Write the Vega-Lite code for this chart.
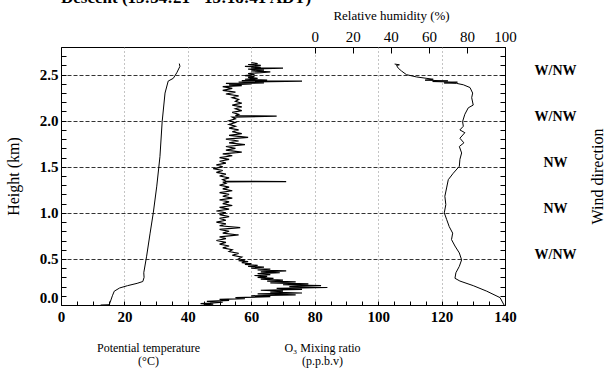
{
  "$schema": "https://vega.github.io/schema/vega-lite/v6.json",
  "width": 444,
  "height": 258,
  "autosize": {"type": "none"},
  "padding": {"left": 61, "top": 47, "right": 103, "bottom": 64},
  "background": "white",
  "config": {
    "view": {"stroke": "black", "strokeWidth": 1},
    "font": "Liberation Serif",
    "axis": {"labelFont": "Liberation Serif", "titleFont": "Liberation Serif", "titleFontWeight": "normal", "domain": false, "labelColor": "black", "titleColor": "black", "tickColor": "black"}
  },
  "title": {"text": "Descent (15:34:21 - 15:18:41 ADT)", "anchor": "start", "frame": "group", "font": "Liberation Serif", "fontSize": 17, "fontWeight": "bold", "offset": 2, "color": "black"},
  "datasets": {
    "temp": [
      {"t": 12.5, "h": 0.0}, {"t": 15.2, "h": 0.003}, {"t": 15.5, "h": 0.03}, {"t": 16.2, "h": 0.1}, {"t": 16.8, "h": 0.15},
      {"t": 18.5, "h": 0.185}, {"t": 21.0, "h": 0.21}, {"t": 24.0, "h": 0.235}, {"t": 25.8, "h": 0.255}, {"t": 26.2, "h": 0.3},
      {"t": 26.1, "h": 0.35}, {"t": 27.0, "h": 0.53}, {"t": 28.1, "h": 0.78}, {"t": 29.1, "h": 1.0}, {"t": 30.2, "h": 1.29},
      {"t": 31.2, "h": 1.61}, {"t": 31.9, "h": 1.99}, {"t": 32.8, "h": 2.3}, {"t": 33.8, "h": 2.43}, {"t": 35.4, "h": 2.46},
      {"t": 36.5, "h": 2.52}, {"t": 37.5, "h": 2.59}, {"t": 37.3, "h": 2.62}
    ],
    "o3": [
      {"o": 45, "h": 0.0}, {"o": 48, "h": 0.01}, {"o": 44, "h": 0.015}, {"o": 47, "h": 0.02}, {"o": 51, "h": 0.03}, {"o": 46, "h": 0.04},
      {"o": 53, "h": 0.05}, {"o": 50, "h": 0.06}, {"o": 58, "h": 0.07}, {"o": 55, "h": 0.08}, {"o": 66, "h": 0.09}, {"o": 60, "h": 0.1},
      {"o": 74, "h": 0.11}, {"o": 62, "h": 0.12}, {"o": 76, "h": 0.13}, {"o": 66, "h": 0.14}, {"o": 70, "h": 0.15}, {"o": 63, "h": 0.16},
      {"o": 76, "h": 0.17}, {"o": 68, "h": 0.18}, {"o": 84, "h": 0.19}, {"o": 72, "h": 0.2}, {"o": 82, "h": 0.21}, {"o": 70, "h": 0.22},
      {"o": 78, "h": 0.23}, {"o": 66, "h": 0.24}, {"o": 74, "h": 0.25}, {"o": 65, "h": 0.26}, {"o": 70, "h": 0.27}, {"o": 63, "h": 0.28},
      {"o": 67, "h": 0.29}, {"o": 62, "h": 0.3}, {"o": 65, "h": 0.31}, {"o": 61, "h": 0.32}, {"o": 66, "h": 0.33}, {"o": 62, "h": 0.34},
      {"o": 69, "h": 0.35}, {"o": 63, "h": 0.36}, {"o": 71, "h": 0.37}, {"o": 62, "h": 0.38}, {"o": 66, "h": 0.39}, {"o": 60, "h": 0.4},
      {"o": 64, "h": 0.41}, {"o": 59, "h": 0.42}, {"o": 62, "h": 0.43}, {"o": 58, "h": 0.44}, {"o": 60, "h": 0.45}, {"o": 57, "h": 0.46},
      {"o": 59, "h": 0.47}, {"o": 56, "h": 0.48}, {"o": 58, "h": 0.49}, {"o": 56, "h": 0.5}, {"o": 57, "h": 0.52}, {"o": 54, "h": 0.54},
      {"o": 56, "h": 0.56}, {"o": 53, "h": 0.58}, {"o": 54, "h": 0.6}, {"o": 51, "h": 0.62}, {"o": 53, "h": 0.64}, {"o": 50, "h": 0.66},
      {"o": 52, "h": 0.68}, {"o": 49, "h": 0.7}, {"o": 52, "h": 0.72}, {"o": 50, "h": 0.74}, {"o": 56, "h": 0.76}, {"o": 51, "h": 0.78},
      {"o": 53, "h": 0.8}, {"o": 50, "h": 0.82}, {"o": 56.5, "h": 0.84}, {"o": 50, "h": 0.86}, {"o": 52, "h": 0.88}, {"o": 49, "h": 0.9},
      {"o": 52, "h": 0.92}, {"o": 50, "h": 0.94}, {"o": 53, "h": 0.96}, {"o": 50, "h": 0.98}, {"o": 52, "h": 1.0}, {"o": 49, "h": 1.02},
      {"o": 53, "h": 1.04}, {"o": 50, "h": 1.06}, {"o": 54, "h": 1.08}, {"o": 51, "h": 1.1}, {"o": 53, "h": 1.12}, {"o": 50, "h": 1.14},
      {"o": 54, "h": 1.16}, {"o": 51, "h": 1.18}, {"o": 53, "h": 1.2}, {"o": 50, "h": 1.22}, {"o": 54, "h": 1.24}, {"o": 51, "h": 1.26},
      {"o": 53, "h": 1.28}, {"o": 50, "h": 1.3}, {"o": 52, "h": 1.32}, {"o": 51, "h": 1.335}, {"o": 71, "h": 1.34}, {"o": 52, "h": 1.345},
      {"o": 51, "h": 1.36}, {"o": 53, "h": 1.38}, {"o": 50, "h": 1.4}, {"o": 52, "h": 1.42}, {"o": 49, "h": 1.44}, {"o": 51, "h": 1.46},
      {"o": 48, "h": 1.48}, {"o": 51, "h": 1.5}, {"o": 49, "h": 1.52}, {"o": 52, "h": 1.54}, {"o": 50, "h": 1.56}, {"o": 53, "h": 1.58},
      {"o": 50, "h": 1.6}, {"o": 54, "h": 1.62}, {"o": 51, "h": 1.64}, {"o": 57, "h": 1.66}, {"o": 52, "h": 1.68}, {"o": 55, "h": 1.7},
      {"o": 52, "h": 1.72}, {"o": 58, "h": 1.74}, {"o": 53, "h": 1.76}, {"o": 56, "h": 1.78}, {"o": 52, "h": 1.8}, {"o": 59, "h": 1.82},
      {"o": 53, "h": 1.84}, {"o": 57, "h": 1.86}, {"o": 54, "h": 1.88}, {"o": 56, "h": 1.9}, {"o": 53, "h": 1.92}, {"o": 55, "h": 1.94},
      {"o": 53, "h": 1.96}, {"o": 55, "h": 1.98}, {"o": 53, "h": 2.0}, {"o": 55, "h": 2.02}, {"o": 54, "h": 2.04}, {"o": 68, "h": 2.05},
      {"o": 55, "h": 2.055}, {"o": 56, "h": 2.07}, {"o": 54, "h": 2.09}, {"o": 57, "h": 2.11}, {"o": 55, "h": 2.13}, {"o": 57, "h": 2.15},
      {"o": 54, "h": 2.17}, {"o": 57, "h": 2.19}, {"o": 55, "h": 2.21}, {"o": 56, "h": 2.23}, {"o": 54, "h": 2.25}, {"o": 56, "h": 2.27},
      {"o": 52, "h": 2.29}, {"o": 55, "h": 2.31}, {"o": 51, "h": 2.33}, {"o": 54, "h": 2.35}, {"o": 51, "h": 2.37}, {"o": 57, "h": 2.38},
      {"o": 53, "h": 2.39}, {"o": 60, "h": 2.4}, {"o": 52, "h": 2.405}, {"o": 64, "h": 2.41}, {"o": 56, "h": 2.42}, {"o": 76, "h": 2.43},
      {"o": 57, "h": 2.435}, {"o": 65, "h": 2.44}, {"o": 58, "h": 2.45}, {"o": 62, "h": 2.46}, {"o": 59, "h": 2.47}, {"o": 61, "h": 2.48},
      {"o": 58, "h": 2.49}, {"o": 61, "h": 2.5}, {"o": 59, "h": 2.51}, {"o": 62, "h": 2.52}, {"o": 66, "h": 2.53}, {"o": 60, "h": 2.54},
      {"o": 64, "h": 2.55}, {"o": 59, "h": 2.56}, {"o": 70, "h": 2.57}, {"o": 60, "h": 2.575}, {"o": 63, "h": 2.58}, {"o": 58, "h": 2.59},
      {"o": 63, "h": 2.6}, {"o": 59, "h": 2.61}, {"o": 62, "h": 2.62}, {"o": 60, "h": 2.63}
    ],
    "rh": [
      {"r": 99.5, "h": 0.0}, {"r": 97.4, "h": 0.08}, {"r": 90.4, "h": 0.15}, {"r": 83.3, "h": 0.21}, {"r": 76.3, "h": 0.26},
      {"r": 73.7, "h": 0.29}, {"r": 74.2, "h": 0.35}, {"r": 76.0, "h": 0.42}, {"r": 77.2, "h": 0.49}, {"r": 76.0, "h": 0.565},
      {"r": 73.7, "h": 0.64}, {"r": 71.9, "h": 0.71}, {"r": 72.5, "h": 0.78}, {"r": 70.7, "h": 0.85}, {"r": 69.3, "h": 0.93},
      {"r": 68.1, "h": 1.0}, {"r": 68.9, "h": 1.09}, {"r": 68.4, "h": 1.18}, {"r": 69.3, "h": 1.27}, {"r": 70.2, "h": 1.36},
      {"r": 72.8, "h": 1.43}, {"r": 76.0, "h": 1.505}, {"r": 76.3, "h": 1.58}, {"r": 77.2, "h": 1.65}, {"r": 76.0, "h": 1.72},
      {"r": 78.4, "h": 1.76}, {"r": 76.3, "h": 1.81}, {"r": 78.9, "h": 1.87}, {"r": 76.3, "h": 1.9}, {"r": 78.1, "h": 1.94},
      {"r": 77.7, "h": 1.99}, {"r": 78.9, "h": 2.07}, {"r": 80.7, "h": 2.14}, {"r": 83.3, "h": 2.17}, {"r": 82.5, "h": 2.25},
      {"r": 83.0, "h": 2.3}, {"r": 81.6, "h": 2.36}, {"r": 78.1, "h": 2.39}, {"r": 74.6, "h": 2.405}, {"r": 68.0, "h": 2.41},
      {"r": 75.0, "h": 2.418}, {"r": 62.0, "h": 2.425}, {"r": 70.0, "h": 2.432}, {"r": 58.0, "h": 2.44}, {"r": 62.3, "h": 2.45},
      {"r": 53.5, "h": 2.475}, {"r": 48.2, "h": 2.5}, {"r": 45.6, "h": 2.54}, {"r": 43.9, "h": 2.57}, {"r": 43.0, "h": 2.6},
      {"r": 44.5, "h": 2.607}, {"r": 42.0, "h": 2.615}
    ]
  },
  "layer": [
    {
      "data": {"name": "temp"},
      "mark": {"type": "line", "color": "black", "strokeWidth": 1, "clip": true},
      "encoding": {
        "x": {
          "field": "t", "type": "quantitative",
          "scale": {"domain": [0, 140], "nice": false, "zero": false},
          "axis": {
            "orient": "bottom",
            "values": [0, 5, 10, 15, 20, 25, 30, 35, 40, 45, 50, 55, 60, 65, 70, 75, 80, 85, 90, 95, 100, 105, 110, 115, 120, 125, 130, 135, 140],
            "labelExpr": "datum.value % 20 == 0 ? datum.label : ''",
            "labelFontWeight": "bold", "labelFontSize": 15, "labelPadding": 8, "labelOverlap": false, "labelFlush": false,
            "tickSize": -4,
            "grid": true, "gridColor": "#888888", "gridDash": [1, 3],
            "gridOpacity": {"condition": {"test": "datum.value % 20 == 0 && datum.value > 0 && datum.value < 140", "value": 1}, "value": 0},
            "title": ["Potential temperature", "(°C)"], "titleFontSize": 12, "titleX": 87, "titleY": 37, "titleBaseline": "top", "titleLineHeight": 13
          }
        },
        "y": {
          "field": "h", "type": "quantitative",
          "scale": {"domain": [0, 2.8], "nice": false, "zero": false},
          "axis": {
            "orient": "left",
            "values": [0, 0.1, 0.2, 0.3, 0.4, 0.5, 0.6, 0.7, 0.8, 0.9, 1.0, 1.1, 1.2, 1.3, 1.4, 1.5, 1.6, 1.7, 1.8, 1.9, 2.0, 2.1, 2.2, 2.3, 2.4, 2.5, 2.6, 2.7, 2.8],
            "labelExpr": "abs(datum.value*2 - round(datum.value*2)) < 0.001 ? format(datum.value, '.1f') : ''",
            "labelFontWeight": "bold", "labelFontSize": 15, "labelPadding": 8, "labelOverlap": false, "labelFlush": true,
            "tickSize": -5,
            "grid": true, "gridColor": "#333333", "gridDash": [4, 2],
            "gridOpacity": {"condition": {"test": "abs(datum.value*2 - round(datum.value*2)) < 0.001 && datum.value > 0.1 && datum.value < 2.7", "value": 1}, "value": 0},
            "title": "Height (km)", "titleFontSize": 16, "titleX": -48, "titleY": 129, "titleAngle": 270, "titleBaseline": "middle", "titleAlign": "center"
          }
        },
        "order": {"field": "h", "type": "quantitative"}
      }
    },
    {
      "data": {"name": "o3"},
      "mark": {"type": "line", "color": "black", "strokeWidth": 1.2, "clip": true},
      "encoding": {
        "x": {
          "field": "o", "type": "quantitative",
          "scale": {"domain": [0, 140], "nice": false, "zero": false},
          "axis": {
            "orient": "bottom", "labels": false, "ticks": false, "grid": false,
            "title": ["O₃ Mixing ratio", "(p.p.b.v)"], "titleFontSize": 12, "titleX": 261, "titleY": 37, "titleBaseline": "top", "titleLineHeight": 13
          }
        },
        "y": {
          "field": "h", "type": "quantitative",
          "scale": {"domain": [0, 2.8], "nice": false, "zero": false},
          "axis": {
            "orient": "right",
            "values": [0, 0.1, 0.2, 0.3, 0.4, 0.5, 0.55, 0.6, 0.7, 0.8, 0.9, 1.0, 1.05, 1.1, 1.2, 1.3, 1.4, 1.5, 1.55, 1.6, 1.7, 1.8, 1.9, 2.0, 2.05, 2.1, 2.2, 2.3, 2.4, 2.5, 2.55, 2.6, 2.7, 2.8],
            "labelExpr": "round(datum.value*100) == 105 || round(datum.value*100) == 155 ? 'NW' : (round(datum.value*100) == 55 || round(datum.value*100) == 205 || round(datum.value*100) == 255 ? 'W/NW' : '')",
            "labelFontWeight": "bold", "labelFontSize": 14, "labelPadding": 55, "labelAlign": "center", "labelOverlap": false, "labelFlush": false,
            "tickSize": -5,
            "tickOpacity": {"condition": {"test": "round(datum.value*100) % 10 == 5", "value": 0}, "value": 1},
            "grid": false,
            "title": "Wind direction", "titleFontSize": 16, "titleX": 92, "titleY": 129, "titleAngle": 270, "titleBaseline": "middle", "titleAlign": "center"
          }
        },
        "order": {"field": "h", "type": "quantitative"}
      }
    },
    {
      "data": {"name": "rh"},
      "mark": {"type": "line", "color": "black", "strokeWidth": 1, "clip": true},
      "encoding": {
        "x": {
          "field": "r", "type": "quantitative",
          "scale": {"domain": [-133.333, 100], "nice": false, "zero": false},
          "axis": {
            "orient": "top", "values": [0, 20, 40, 60, 80, 100],
            "labelFontSize": 15, "labelPadding": 9, "labelFlush": false, "labelOverlap": false,
            "tickSize": -6, "grid": false,
            "title": "Relative humidity (%)", "titleFontSize": 13, "titleX": 330, "titleY": -28, "titleBaseline": "alphabetic", "titleAlign": "center"
          }
        },
        "y": {
          "field": "h", "type": "quantitative",
          "scale": {"domain": [0, 2.8], "nice": false, "zero": false},
          "axis": null
        },
        "order": {"field": "h", "type": "quantitative"}
      }
    }
  ],
  "resolve": {"scale": {"x": "independent", "y": "independent"}, "axis": {"x": "independent", "y": "independent"}}
}
